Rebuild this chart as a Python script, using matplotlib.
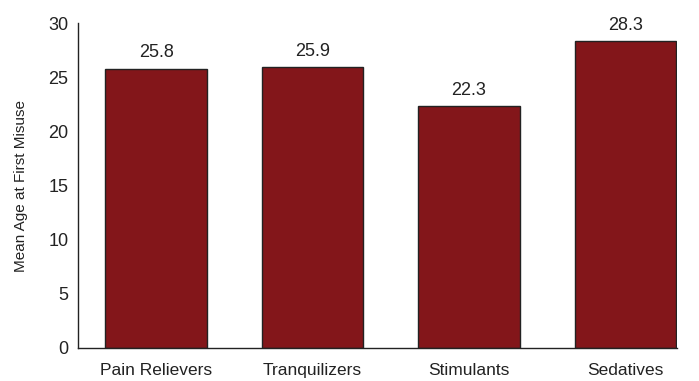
import matplotlib.pyplot as plt
import numpy as np

categories = ["Pain Relievers", "Tranquilizers", "Stimulants", "Sedatives"]
ages = [25.8, 25.9, 22.3, 28.3]

plt.rcParams['font.family'] = ['Liberation Sans', 'DejaVu Sans']

fig = plt.figure(figsize=(6.99, 3.81), dpi=100)
ax = fig.add_axes([78 / 699, 33 / 381, 599 / 699, 325 / 381])

x = np.arange(len(categories))
ax.bar(x, ages, width=0.65, color="#83161A", edgecolor="#222222", linewidth=1)

for xi, v in zip(x, ages):
    ax.text(xi, v + 1.05, f"{v}", ha="center", va="baseline", fontsize=13, color="#222222")

ax.set_xlim(-0.5, 3.33)
ax.set_ylim(0, 30)
ax.set_yticks(range(0, 31, 5))
ax.set_xticks(x)
ax.set_xticklabels(categories)
ax.tick_params(length=0, labelsize=13, colors="#222222")
ax.tick_params(axis="x", labelsize=12.5, pad=11)
ax.tick_params(axis="y", pad=7)
ax.set_ylabel("Mean Age at First Misuse", fontsize=11, color="#222222")
ax.yaxis.set_label_coords(-0.084, 0.5)

for s in ["top", "right"]:
    ax.spines[s].set_visible(False)
for s in ["left", "bottom"]:
    ax.spines[s].set_color("#222222")
    ax.spines[s].set_linewidth(1)

fig.savefig("out.png", dpi=100)
